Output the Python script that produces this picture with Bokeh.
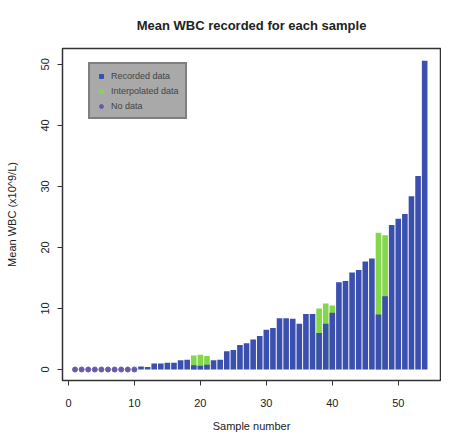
import numpy as np
from bokeh.plotting import figure
from bokeh.models import Range1d, Legend, LegendItem, FixedTicker, Title
from bokeh.embed import file_html
from bokeh.resources import INLINE

# ---- data ----
samples = list(range(1, 55))
recorded = [np.nan]*10 + [
    0.5, 0.4, 1.0, 1.0, 1.1, 1.1, 1.5, 1.6, 0.7, 0.6,
    0.8, 1.5, 1.6, 3.0, 3.2, 4.0, 4.3, 4.9, 5.5, 6.5,
    6.8, 8.4, 8.4, 8.3, 7.5, 9.1, 9.1, 6.0, 7.5, 9.3,
    14.3, 14.5, 15.9, 16.3, 17.7, 18.2, 9.0, 12.0, 23.7, 24.7,
    25.5, 28.4, 31.7, 50.6]
interp_samples = [19, 20, 21, 38, 39, 40, 47, 48]
interp_values = [2.3, 2.4, 2.2, 10.0, 10.8, 10.5, 22.4, 22.0]
nodata_samples = list(range(1, 11))
nodata_values = [0.0]*10
x_ticks = [0, 10, 20, 30, 40, 50]
y_ticks = [0, 10, 20, 30, 40, 50]

BLUE = "#3b4fae"
GREEN = "#84d64a"
PURPLE = "#6a5aa8"
FONT = "Liberation Sans"

p = figure(width=441, height=434, output_backend="svg", toolbar_location=None,
           x_range=Range1d(-0.9, 56.4), y_range=Range1d(-1.8, 52.6),
           min_border_left=62, min_border_right=1, min_border_top=48, min_border_bottom=51)
p.title = None
p.add_layout(Title(text="Mean WBC recorded for each sample", align="center",
                   text_font=FONT, text_font_size="13px", text_font_style="bold",
                   text_color="#222222", vertical_align="top", standoff=28), "above")

g = p.vbar(x=interp_samples, top=interp_values, bottom=0, width=0.85,
           fill_color=GREEN, line_color=None)
rec_x = [s for s, v in zip(samples, recorded) if not np.isnan(v)]
rec_y = [v for v in recorded if not np.isnan(v)]
b = p.vbar(x=rec_x, top=rec_y, bottom=0, width=0.85, fill_color=BLUE, line_color=None)
n = p.scatter(x=nodata_samples, y=nodata_values, size=5, marker="circle",
              fill_color=PURPLE, line_color=PURPLE)

# legend proxies
lr = p.scatter(x=[np.nan], y=[np.nan], marker="square", size=7, fill_color=BLUE, line_color=BLUE)
lg = p.scatter(x=[np.nan], y=[np.nan], marker="square", size=7, fill_color=GREEN, line_color=GREEN)
ln = p.scatter(x=[np.nan], y=[np.nan], marker="circle", size=6, fill_color=PURPLE, line_color=PURPLE)
legend = Legend(items=[LegendItem(label="Recorded data", renderers=[lr]),
                       LegendItem(label="Interpolated data", renderers=[lg]),
                       LegendItem(label="No data", renderers=[ln])],
                location=(26, 261))
legend.background_fill_color = "#a9a9a9"
legend.background_fill_alpha = 1
legend.border_line_color = "#555555"
legend.border_line_width = 2
legend.label_text_font = FONT
legend.label_text_font_size = "9px"
legend.label_height = 11
legend.glyph_height = 10
legend.glyph_width = 10
legend.spacing = 4
legend.padding = 6
legend.margin = 0
p.add_layout(legend, "center")

p.xgrid.visible = False
p.ygrid.visible = False
p.outline_line_color = "#333333"
p.outline_line_width = 1.5

p.xaxis.ticker = FixedTicker(ticks=x_ticks)
p.yaxis.ticker = FixedTicker(ticks=y_ticks)
for ax in (p.xaxis[0], p.yaxis[0]):
    ax.axis_line_color = None
    ax.minor_tick_line_color = None
    ax.major_tick_out = 5
    ax.major_tick_in = 0
    ax.major_tick_line_color = "#333333"
    ax.major_label_text_font = FONT
    ax.major_label_text_font_size = "11px"
    ax.major_label_text_color = "#222222"
    ax.axis_label_text_font = FONT
    ax.axis_label_text_font_size = "11px"
    ax.axis_label_text_font_style = "normal"
    ax.axis_label_text_color = "#222222"
p.xaxis.axis_label = "Sample number"
p.yaxis.axis_label = "Mean WBC (x10^9/L)"
p.yaxis.major_label_orientation = "vertical"
p.xaxis.major_label_standoff = 13
p.xaxis.axis_label_standoff = 10
p.yaxis.major_label_standoff = 8
p.yaxis.axis_label_standoff = 21

open("out.html", "w").write(file_html(p, INLINE))
